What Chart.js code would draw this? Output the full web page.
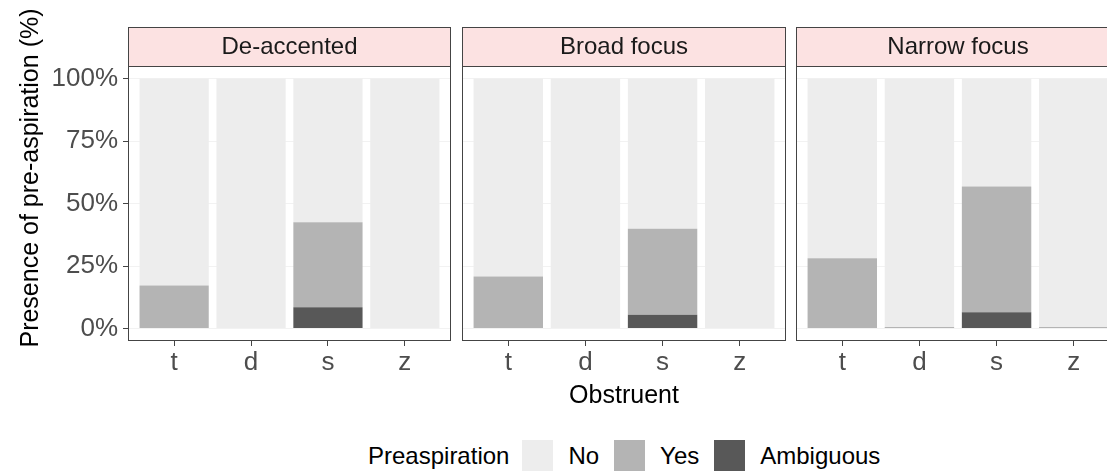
<!DOCTYPE html>
<html>
<head>
<meta charset="utf-8">
<script src="https://cdn.jsdelivr.net/npm/chart.js@4/dist/chart.umd.min.js"></script>
<style>
    html, body {
        margin: 0;
        padding: 0;
        background: #ffffff;
    }
    body {
        position: relative;
        width: 1107px;
        height: 471px;
        overflow: hidden;
        font-family: "Liberation Sans", Arial, sans-serif;
    }
    canvas {
        position: absolute;
        top: 0;
    }
    .yTitle {
        position: absolute;
        left: -151px;
        top: 166px;
        width: 360px;
        height: 24px;
        line-height: 24px;
        font-size: 25px;
        text-align: center;
        color: #000;
        transform: rotate(-90deg);
        white-space: nowrap;
    }
    .xTitle {
        position: absolute;
        left: 0;
        top: 382px;
        width: 1248px;
        height: 24px;
        line-height: 24px;
        font-size: 25px;
        text-align: center;
        color: #000;
    }
    .legend {
        position: absolute;
        left: 368px;
        top: 440px;
        height: 31px;
        display: flex;
        align-items: center;
        font-size: 24px;
        color: #000;
        white-space: nowrap;
    }
    .legend .key {
        width: 31px;
        height: 31px;
        margin: 0 15px;
    }
    .legend .title {
        margin-right: -2px;
    }
</style>
</head>
<body>
<canvas id="panel0" width="452" height="385" style="left:0px"></canvas>
<canvas id="panel1" width="326" height="385" style="left:461px"></canvas>
<canvas id="panel2" width="326" height="385" style="left:795px"></canvas>
<div class="yTitle">Presence of pre-aspiration (%)</div>
<div class="xTitle">Obstruent</div>
<div class="legend" id="legend"></div>

<script>
"use strict";

// Categories and facets
const categories = ['t', 'd', 's', 'z'];
const panelTitles = ['De-accented', 'Broad focus', 'Narrow focus'];
const seriesLabels = ['No', 'Yes', 'Ambiguous'];
const seriesColors = ['#ededed', '#b4b4b4', '#585858'];
const yTicks = [0, 25, 50, 75, 100];

// Percentages per obstruent (t, d, s, z)
const deaccentedNo = [82.8, 100, 57.5, 100];
const deaccentedYes = [17.2, 0, 34.0, 0];
const deaccentedAmbiguous = [0, 0, 8.5, 0];

const broadNo = [79.2, 100, 60.1, 100];
const broadYes = [20.8, 0, 34.4, 0];
const broadAmbiguous = [0, 0, 5.5, 0];

const narrowNo = [71.9, 99.4, 43.2, 99.4];
const narrowYes = [28.1, 0.6, 50.3, 0.6];
const narrowAmbiguous = [0, 0, 6.5, 0];

const panelData = [
    { no: deaccentedNo, yes: deaccentedYes, amb: deaccentedAmbiguous },
    { no: broadNo, yes: broadYes, amb: broadAmbiguous },
    { no: narrowNo, yes: narrowYes, amb: narrowAmbiguous }
];

const FONT = '"Liberation Sans", Arial, sans-serif';

/**
 * Draws the facet strip above the panel and the panel border
 */
const facetPlugin = {
    id: 'facet',
    afterDatasetsDraw(chart, args, opts) {
        const ctx = chart.ctx;
        const a = chart.chartArea;
        ctx.save();
        // panel border
        ctx.strokeStyle = '#444444';
        ctx.lineWidth = 1;
        ctx.strokeRect(a.left + 0.5, a.top + 0.5, a.right - a.left - 1, a.bottom - a.top - 1);
        // strip
        const stripTop = 27;
        ctx.fillStyle = '#fce2e2';
        ctx.fillRect(a.left, stripTop, a.right - a.left, a.top - stripTop);
        ctx.strokeRect(a.left + 0.5, stripTop + 0.5, a.right - a.left - 1, a.top - stripTop);
        ctx.fillStyle = '#1a1a1a';
        ctx.font = '24px ' + FONT;
        ctx.textAlign = 'center';
        ctx.textBaseline = 'middle';
        ctx.fillText(opts.title, (a.left + a.right) / 2, (stripTop + a.top) / 2 + 1);
        ctx.restore();
    }
};

function toPoints(values) {
    return categories.map((c, i) => ({ x: i + 1, y: values[i] }));
}

function buildPanel(index) {
    const canvas = document.getElementById('panel' + index);
    const d = panelData[index];
    const first = index === 0;
    const canvasHeight = canvas.height;

    new Chart(canvas, {
        type: 'bar',
        data: {
            datasets: [
                { label: seriesLabels[2], data: toPoints(d.amb), backgroundColor: seriesColors[2] },
                { label: seriesLabels[1], data: toPoints(d.yes), backgroundColor: seriesColors[1] },
                { label: seriesLabels[0], data: toPoints(d.no), backgroundColor: seriesColors[0] }
            ]
        },
        plugins: [facetPlugin],
        options: {
            responsive: false,
            animation: false,
            devicePixelRatio: 1,
            barPercentage: 0.9,
            categoryPercentage: 1,
            borderWidth: 0,
            layout: {
                padding: { top: 66, right: 1, bottom: 0, left: first ? 0 : 1 }
            },
            plugins: {
                legend: { display: false },
                tooltip: { enabled: false },
                facet: { title: panelTitles[index] }
            },
            scales: {
                x: {
                    type: 'linear',
                    stacked: true,
                    offset: false,
                    min: 0.4,
                    max: 4.6,
                    afterBuildTicks: function(scale) {
                        scale.ticks = categories.map((c, i) => ({ value: i + 1 }));
                    },
                    afterFit: function(scale) {
                        scale.height = canvasHeight - 341;
                    },
                    border: { display: false },
                    grid: {
                        offset: false,
                        drawOnChartArea: false,
                        drawTicks: true,
                        tickLength: 5,
                        tickColor: '#444444'
                    },
                    ticks: {
                        autoSkip: false,
                        maxRotation: 0,
                        padding: 1,
                        color: '#4d4d4d',
                        font: { family: FONT, size: 26 },
                        callback: function(value) {
                            return categories[value - 1];
                        }
                    }
                },
                y: {
                    stacked: true,
                    min: -5,
                    max: 105,
                    afterBuildTicks: function(scale) {
                        scale.ticks = yTicks.map(v => ({ value: v }));
                    },
                    afterFit: function(scale) {
                        scale.width = first ? 128 : 0;
                    },
                    border: { display: false },
                    grid: {
                        color: '#f2f2f2',
                        drawTicks: first,
                        tickLength: 5,
                        tickColor: '#444444'
                    },
                    ticks: {
                        display: first,
                        padding: 5,
                        color: '#4d4d4d',
                        font: { family: FONT, size: 26 },
                        callback: function(value) {
                            return value + '%';
                        }
                    }
                }
            }
        }
    });
}

function buildLegend() {
    const legend = document.getElementById('legend');
    const title = document.createElement('span');
    title.className = 'title';
    title.textContent = 'Preaspiration';
    legend.appendChild(title);
    seriesLabels.forEach(function(label, i) {
        const key = document.createElement('span');
        key.className = 'key';
        key.style.background = seriesColors[i];
        legend.appendChild(key);
        const text = document.createElement('span');
        text.textContent = label;
        legend.appendChild(text);
    });
}

panelTitles.forEach((t, i) => buildPanel(i));
buildLegend();
</script>
</body>
</html>
